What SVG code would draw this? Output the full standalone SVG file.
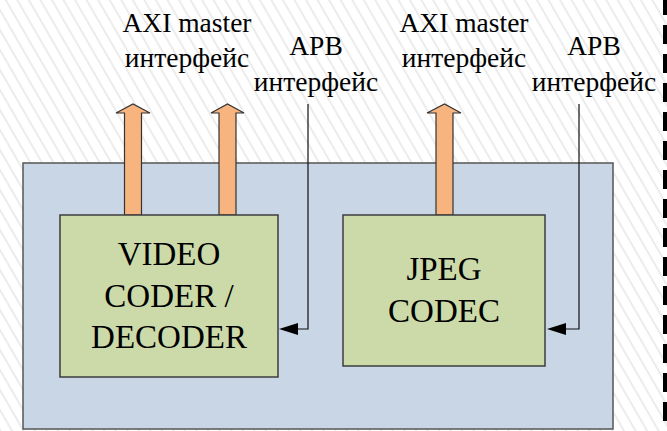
<svg xmlns="http://www.w3.org/2000/svg" width="667" height="431" viewBox="0 0 667 431">
<defs>
<pattern id="hatch" width="10" height="10" patternUnits="userSpaceOnUse" patternTransform="rotate(-30)">
<rect width="10" height="10" fill="#ffffff"/>
<line x1="5" y1="0" x2="5" y2="10" stroke="#ececec" stroke-width="2"/>
</pattern>
<style>
text{font-family:'Liberation Serif','Times New Roman',serif;fill:#000;text-anchor:middle}
.lbl{font-size:27.5px}
.btxt{font-size:33px}
.box{fill:#ccdaa9;stroke:#3c3c3c;stroke-width:1.5}
.axi{fill:#f8b47f;stroke:#333;stroke-width:1.2}
.apb{fill:none;stroke:#111;stroke-width:1.2}
.ah{fill:#000}
</style>
</defs>
<rect width="667" height="431" fill="url(#hatch)"/>
<line x1="665" y1="0" x2="665" y2="431" stroke="#000" stroke-width="4" stroke-dasharray="19 10" stroke-dashoffset="4"/>
<g id="system">
<rect x="23" y="163" width="590" height="266" fill="#c9d6e6" stroke="#555" stroke-width="1.5"/>
</g>
<g id="connectors">
<polygon class="axi" points="124.5,215 124.5,113 116,113 133,104 150,113 141.5,113 141.5,215"/>
<polygon class="axi" points="219,215 219,113 211,113 227.5,104 244,113 236,113 236,215"/>
<polygon class="axi" points="436,215 436,113 427,113 444.5,104 461,113 453,113 453,215"/>
<path class="apb" d="M308,104 V329 H296"/>
<polygon class="ah" points="279,329 298,323 298,335"/>
<path class="apb" d="M579,104 V329 H564"/>
<polygon class="ah" points="547,329 566,323 566,335"/>
</g>
<g id="video">
<rect class="box" x="60" y="215" width="218" height="162"/>
<text class="btxt" x="169" y="265">VIDEO</text>
<text class="btxt" x="169" y="307">CODER /</text>
<text class="btxt" x="169" y="348">DECODER</text>
</g>
<g id="jpeg">
<rect class="box" x="343" y="215" width="202" height="151"/>
<text class="btxt" x="444" y="280">JPEG</text>
<text class="btxt" x="444" y="322">CODEC</text>
</g>
<g id="labels">
<text class="lbl" x="187" y="32">AXI master</text>
<text class="lbl" x="187" y="67">интерфейс</text>
<text class="lbl" x="316" y="55">APB</text>
<text class="lbl" x="316" y="91">интерфейс</text>
<text class="lbl" x="464" y="32">AXI master</text>
<text class="lbl" x="464" y="67">интерфейс</text>
<text class="lbl" x="594" y="55">APB</text>
<text class="lbl" x="594" y="91">интерфейс</text>
</g>
</svg>
